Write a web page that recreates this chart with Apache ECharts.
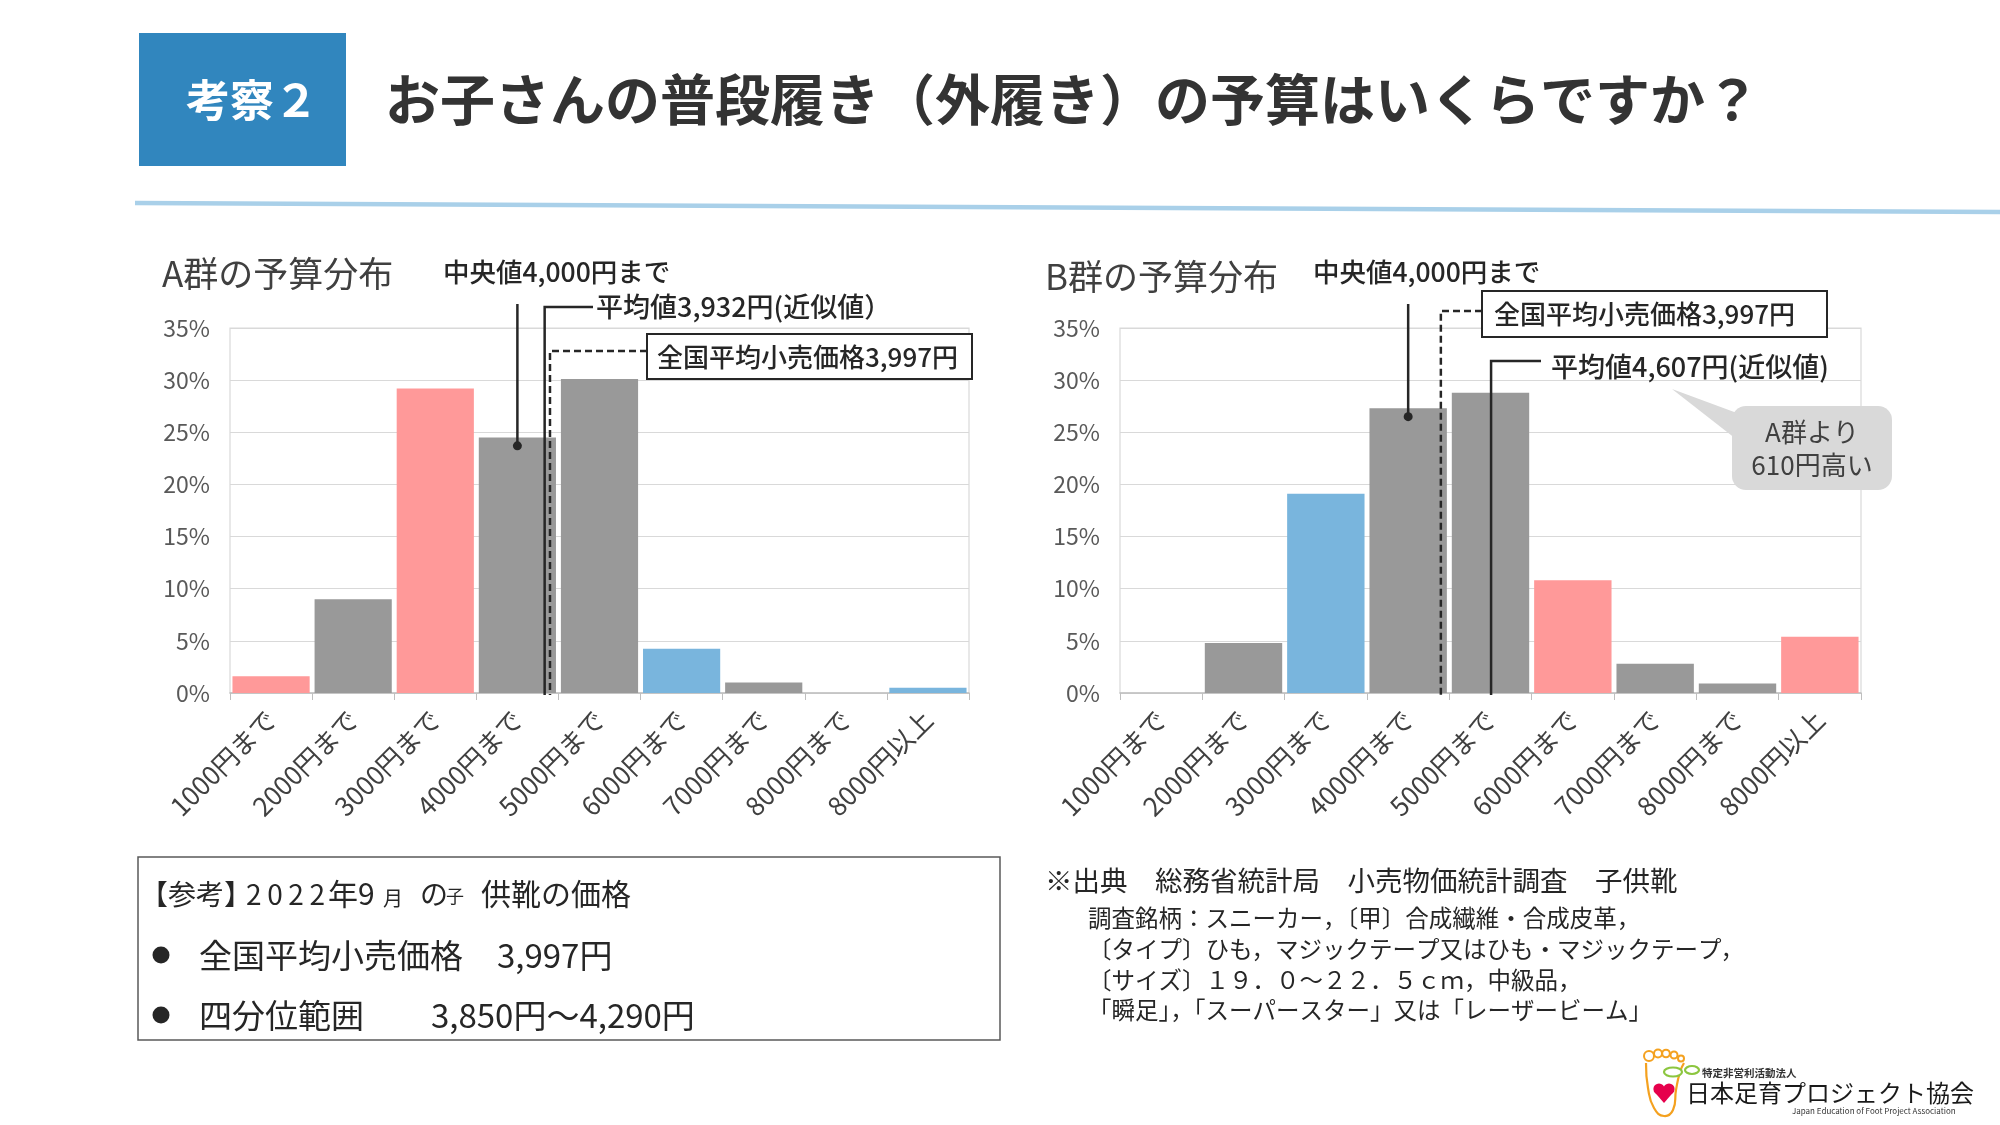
<!DOCTYPE html>
<html><head><meta charset="utf-8">
<script src="https://cdn.jsdelivr.net/npm/echarts@6/dist/echarts.min.js"></script>
<style>html,body{margin:0;padding:0;background:#fff}#c{width:2000px;height:1125px}</style>
</head><body><div id="c"></div>
<script>
// ---------- data ----------
const categories = ['1000円まで','2000円まで','3000円まで','4000円まで','5000円まで','6000円まで','7000円まで','8000円まで','8000円以上'];
const groupAValues = [1.6, 9.0, 29.2, 24.5, 30.1, 4.25, 1.0, 0, 0.5];
const groupBValues = [0, 4.8, 19.1, 27.3, 28.8, 10.8, 2.8, 0.9, 5.4];
const groupAColorKeys = ['pink','gray','pink','gray','gray','blue','gray','gray','blue'];
const groupBColorKeys = ['gray','gray','blue','gray','gray','pink','gray','gray','pink'];
const yTickMin = 0, yTickMax = 35, yTickStep = 5;
const medianBin = '4000円まで';
const meanA = 3932, meanB = 4607, retailPrice = 3997;

// ---------- style ----------
const FONT = '"Noto Sans CJK JP", "Noto Sans", sans-serif';
const PALETTE = { pink: '#FF9999', gray: '#999999', blue: '#79B5DD' };
const TXT = '#262626';

const chart = echarts.init(document.getElementById('c'), null, { renderer: 'canvas' });

function xCat(gi) {
  return {
    type: 'category', gridIndex: gi, data: categories,
    axisLine: { lineStyle: { color: '#BFBFBF', width: 1.5 } },
    axisTick: { show: true, length: 7, lineStyle: { color: '#BFBFBF' } },
    axisLabel: { rotate: 45, interval: 0, fontSize: 26, color: '#404040', margin: 22, fontFamily: FONT }
  };
}
function xYen(gi) {
  // hidden helper axis for annotation placement (bins drawn with a 100-yen offset as in the source)
  return { type: 'value', gridIndex: gi, min: 100, max: 9100, show: false };
}
function yAx(gi) {
  return {
    type: 'value', gridIndex: gi, min: yTickMin, max: yTickMax, interval: yTickStep,
    axisLabel: { formatter: '{value}%', fontSize: 23, color: '#595959', margin: 20, fontFamily: FONT },
    axisLine: { show: false }, axisTick: { show: false },
    splitLine: { lineStyle: { color: '#D9D9D9', width: 1.2 } }
  };
}
function barData(vals, keys) {
  return vals.map((v, i) => ({ value: v, itemStyle: { color: PALETTE[keys[i]] } }));
}

chart.setOption({
  backgroundColor: '#ffffff',
  animation: false,
  grid: [
    { left: 230, top: 328, width: 739, height: 365, show: true, borderColor: '#D9D9D9', borderWidth: 1.2 },
    { left: 1120, top: 328, width: 741, height: 365, show: true, borderColor: '#D9D9D9', borderWidth: 1.2 }
  ],
  xAxis: [xCat(0), xCat(1), xYen(0), xYen(1)],
  yAxis: [yAx(0), yAx(1)],
  series: [
    { type: 'bar', xAxisIndex: 0, yAxisIndex: 0, data: barData(groupAValues, groupAColorKeys), barCategoryGap: '6%' },
    { type: 'bar', xAxisIndex: 1, yAxisIndex: 1, data: barData(groupBValues, groupBColorKeys), barCategoryGap: '6%' }
  ]
});

function T(text, x, y, size, opts) {
  opts = opts || {};
  const weight = opts.weight || 'normal';
  return { type: 'text', z: 30, style: {
    text: text, x: x, y: y,
    font: weight + ' ' + size + 'px ' + FONT,
    fill: opts.fill || TXT,
    textAlign: opts.align || 'left', align: opts.align || 'left',
    textVerticalAlign: 'middle', verticalAlign: 'middle'
  } };
}
function L(points, opts) {
  opts = opts || {};
  return { type: 'polyline', z: 25, shape: { points: points },
    style: { stroke: opts.stroke || '#262626', lineWidth: opts.w || 2.5, lineDash: opts.dash || null, fill: null } };
}

const px = (ai, v) => chart.convertToPixel({ xAxisIndex: ai }, v);
const py = (ai, v) => chart.convertToPixel({ yAxisIndex: ai }, v);

const g = [];
// header
g.push({ type: 'rect', z: 5, shape: { x: 139, y: 33, width: 207, height: 133 }, style: { fill: '#3186BE' } });
g.push(T('考察２', 252, 100, 44, { fill: '#ffffff', align: 'center', weight: 'bold' }));
g.push(T('お子さんの普段履き（外履き）の予算はいくらですか？', 385, 99, 55, { fill: '#333333', weight: 'bold' }));
g.push(L([[135, 203], [2000, 212]], { stroke: '#A9D0E9', w: 4.5 }));

// chart titles
g.push(T('A群の予算分布', 162, 274, 35, { fill: '#404040' }));
g.push(T('B群の予算分布', 1045, 277, 35, { fill: '#404040' }));

// ---- annotations A ----
(function () {
  const base = py(0, 0);
  const mx = px(0, medianBin);
  const dotY = py(0, groupAValues[categories.indexOf(medianBin)] - 0.8);
  g.push(T('中央値4,000円まで', 443, 272, 26.5, { weight: 500 }));
  g.push(L([[mx, 304], [mx, dotY]]));
  g.push({ type: 'circle', z: 26, shape: { cx: mx, cy: dotY, r: 4.5 }, style: { fill: '#262626' } });
  const meanX = px(2, meanA);
  g.push(L([[593, 307], [meanX, 307], [meanX, base + 2]]));
  g.push(T('平均値3,932円(近似値）', 596, 307, 27, { weight: 500 }));
  const rx = px(2, retailPrice);
  g.push(L([[647, 351], [rx, 351], [rx, base + 2]], { dash: [7, 4] }));
  g.push({ type: 'rect', z: 27, shape: { x: 647, y: 334, width: 325, height: 45 }, style: { fill: '#ffffff', stroke: '#262626', lineWidth: 2 } });
  g.push(T('全国平均小売価格3,997円', 657, 357, 26, { weight: 500 }));
})();

// ---- annotations B ----
(function () {
  const base = py(1, 0);
  const mx = px(1, medianBin);
  const dotY = py(1, groupBValues[categories.indexOf(medianBin)] - 0.8);
  g.push(T('中央値4,000円まで', 1313, 272, 26.5, { weight: 500 }));
  g.push(L([[mx, 304], [mx, dotY]]));
  g.push({ type: 'circle', z: 26, shape: { cx: mx, cy: dotY, r: 4.5 }, style: { fill: '#262626' } });
  const rx = px(3, retailPrice);
  g.push(L([[1482, 311], [rx, 311], [rx, base + 2]], { dash: [7, 4] }));
  g.push({ type: 'rect', z: 27, shape: { x: 1482, y: 291, width: 345, height: 46 }, style: { fill: '#ffffff', stroke: '#262626', lineWidth: 2 } });
  g.push(T('全国平均小売価格3,997円', 1494, 314, 26, { weight: 500 }));
  const meanX = px(3, meanB);
  g.push(L([[1541, 361], [meanX, 361], [meanX, base + 2]]));
  g.push(T('平均値4,607円(近似値)', 1551, 367, 27, { weight: 500 }));
  // callout bubble
  g.push({ type: 'polygon', z: 28, shape: { points: [[1672, 389], [1745, 416], [1745, 446]] }, style: { fill: '#D9D9D9' } });
  g.push({ type: 'rect', z: 28, shape: { x: 1732, y: 406, width: 160, height: 84, r: 14 }, style: { fill: '#D9D9D9' } });
  g.push(T('A群より', 1812, 432, 26, { align: 'center', fill: '#404040' }));
  g.push(T('610円高い', 1812, 465, 26, { align: 'center', fill: '#404040' }));
})();

// ---- reference box ----
g.push({ type: 'rect', z: 5, shape: { x: 138, y: 857, width: 862, height: 183 }, style: { fill: null, stroke: '#595959', lineWidth: 1.5 } });
g.push(T('【参考】', 140, 894, 28));
g.push(T('2\u20090\u20092\u20092', 246, 894, 28));
g.push(T('年9', 328, 894, 30));
g.push(T('月', 383, 898, 20));
g.push(T('の', 420, 894, 28));
g.push(T('子', 446, 896, 18));
g.push(T('供靴の価格', 481, 894, 30));
g.push({ type: 'circle', z: 30, shape: { cx: 161, cy: 955, r: 8.5 }, style: { fill: '#262626' } });
g.push(T('全国平均小売価格', 199, 955, 33));
g.push(T('3,997円', 497, 955, 33));
g.push({ type: 'circle', z: 30, shape: { cx: 161, cy: 1015, r: 8.5 }, style: { fill: '#262626' } });
g.push(T('四分位範囲', 199, 1015, 33));
g.push(T('3,850円～4,290円', 431, 1015, 33));

// ---- source notes ----
g.push(T('※出典　総務省統計局　小売物価統計調査　子供靴', 1045, 881, 27.5));
g.push(T('調査銘柄：スニーカー，〔甲〕合成繊維・合成皮革，', 1088, 918, 23.5));
g.push(T('〔タイプ〕ひも，マジックテープ又はひも・マジックテープ，', 1088, 949, 23.5));
g.push(T('〔サイズ〕１９．０～２２．５ｃｍ，中級品，', 1088, 980, 23.5));
g.push(T('「瞬足」，「スーパースター」又は「レーザービーム」', 1088, 1010, 23.5));

// ---- logo ----
const ORANGE = '#F4A11F';
[[1649, 1056, 5], [1658, 1053.5, 4], [1666, 1053.5, 3.8], [1674, 1055, 3.5], [1681, 1058.5, 3]].forEach(function (c) {
  g.push({ type: 'circle', z: 30, shape: { cx: c[0], cy: c[1], r: c[2] }, style: { fill: '#ffffff', stroke: ORANGE, lineWidth: 2 } });
});
g.push({ type: 'polyline', z: 30, shape: { smooth: 0.5, points: [[1646, 1063], [1648, 1088], [1654, 1108], [1664, 1116], [1673, 1110], [1676, 1090], [1680, 1072], [1684, 1063]] }, style: { stroke: ORANGE, lineWidth: 2.2, fill: null } });
g.push({ type: 'ellipse', z: 31, shape: { cx: 1673, cy: 1072, rx: 9, ry: 4.5 }, style: { fill: '#ffffff', stroke: '#8CC63F', lineWidth: 2.2 } });
g.push({ type: 'ellipse', z: 31, shape: { cx: 1692, cy: 1070, rx: 7, ry: 4 }, style: { fill: '#ffffff', stroke: '#8CC63F', lineWidth: 2.2 } });
g.push({ type: 'circle', z: 32, shape: { cx: 1659, cy: 1089, r: 5.6 }, style: { fill: '#E6004C' } });
g.push({ type: 'circle', z: 32, shape: { cx: 1669, cy: 1089, r: 5.6 }, style: { fill: '#E6004C' } });
g.push({ type: 'polygon', z: 32, shape: { points: [[1653.6, 1091], [1674.4, 1091], [1664, 1103]] }, style: { fill: '#E6004C' } });
g.push(T('特定非営利活動法人', 1702, 1073, 10.5, { weight: 'bold', fill: '#333333' }));
g.push(T('日本足育プロジェクト協会', 1686, 1093, 24, { fill: '#1a1a1a' }));
g.push(T('Japan Education of Foot Project Association', 1792, 1111, 8, { fill: '#333333' }));

chart.setOption({ graphic: { elements: g } });
</script>
</body></html>
